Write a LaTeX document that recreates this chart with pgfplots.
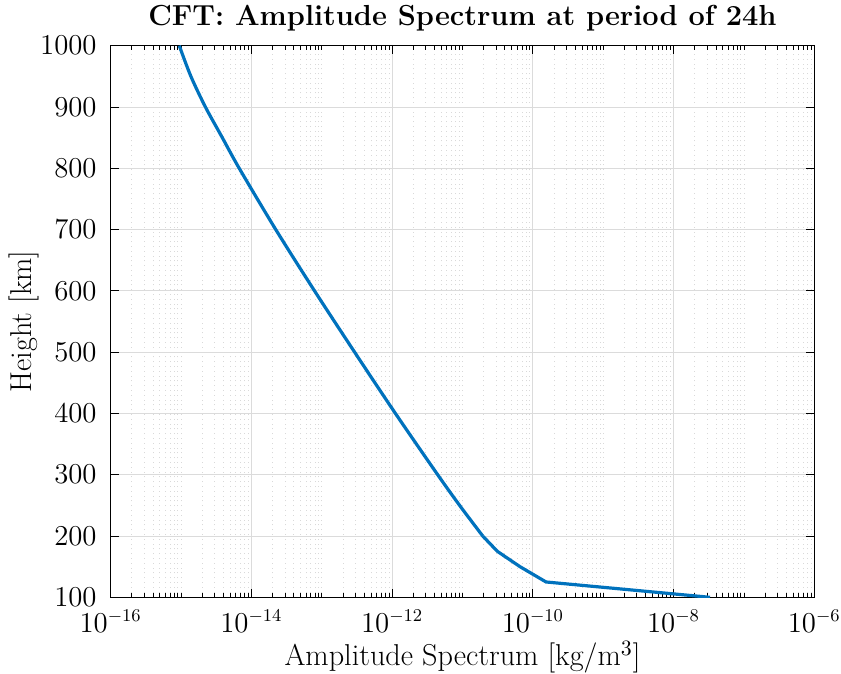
\documentclass[border=0pt]{standalone}
\usepackage{pgfplots}
\pgfplotsset{compat=1.18}
\definecolor{mblue}{RGB}{0,114,189}
\def\minorlist{}%
\foreach \e in {-16,...,-7} {\foreach \m in {2,...,9} {\xdef\minorlist{\minorlist\m e\e,}}}%
\pgfplotsset{minor xtick/.expanded={\minorlist 1e-15,1e-13,1e-11,1e-9,1e-7}}%
\begin{document}%
\begin{tikzpicture}
\begin{axis}[
  name=ax,
  scale only axis,
  width=351.8pt, height=275.8pt,
  xmode=log, log basis x=10,
  xmin=1e-16, xmax=1e-6,
  ymin=100, ymax=1000,
  xtick={1e-16,1e-14,1e-12,1e-10,1e-8,1e-6},
  ytick={100,200,300,400,500,600,700,800,900,1000},
  yticklabel style={/pgf/number format/1000 sep={}, xshift=-3.5pt},
  xticklabel style={yshift=-3pt},
  grid=both,
  major grid style={gray!28, line width=0.4pt},
  minor grid style={gray!30, dotted, line width=0.4pt},
  major tick length=4pt, minor tick length=2.2pt,
  tick style={black, line width=0.4pt},
  axis line style={black, line width=0.5pt},
  tick label style={font=\fontsize{13.4}{15}\selectfont},
  label style={font=\fontsize{15.1}{17}\selectfont},
  title style={font=\fontsize{14.5}{17}\selectfont\bfseries, at={(axis description cs:0.5,1)}, anchor=south, yshift=-2pt},
  title={CFT: Amplitude Spectrum at period of 24h},
  xlabel={Amplitude Spectrum [kg/m$^3$]},
  ylabel={Height [km]},
  ylabel style={at={(axis description cs:-0.1232,0.5)}, anchor=center},
  xlabel style={at={(axis description cs:0.5,-0.1082)}, anchor=center},
]
\addplot[mblue, line width=1.6pt] coordinates {
(3.29e-8,100)
(1.54e-10,125)
(6.56e-11,150)
(3.13e-11,175)
(1.94e-11,200)
};
\addplot[mblue, line width=1.6pt, smooth] coordinates {
(1.94e-11,200)
(9.1e-12,250)
(4.44e-12,300)
(1.114e-12,400)
(2.93e-13,500)
(7.89e-14,600)
(2.22e-14,700)
(6.71e-15,800)
(3.86e-15,850)
(2.22e-15,900)
(1.38e-15,950)
(9.44e-16,1000)
};
\end{axis}
\pgfresetboundingbox
\path ([shift={(-55.35pt,-38.35pt)}]ax.south west) rectangle ([shift={(13.35pt,22.85pt)}]ax.north east);
\end{tikzpicture}%
\end{document}
